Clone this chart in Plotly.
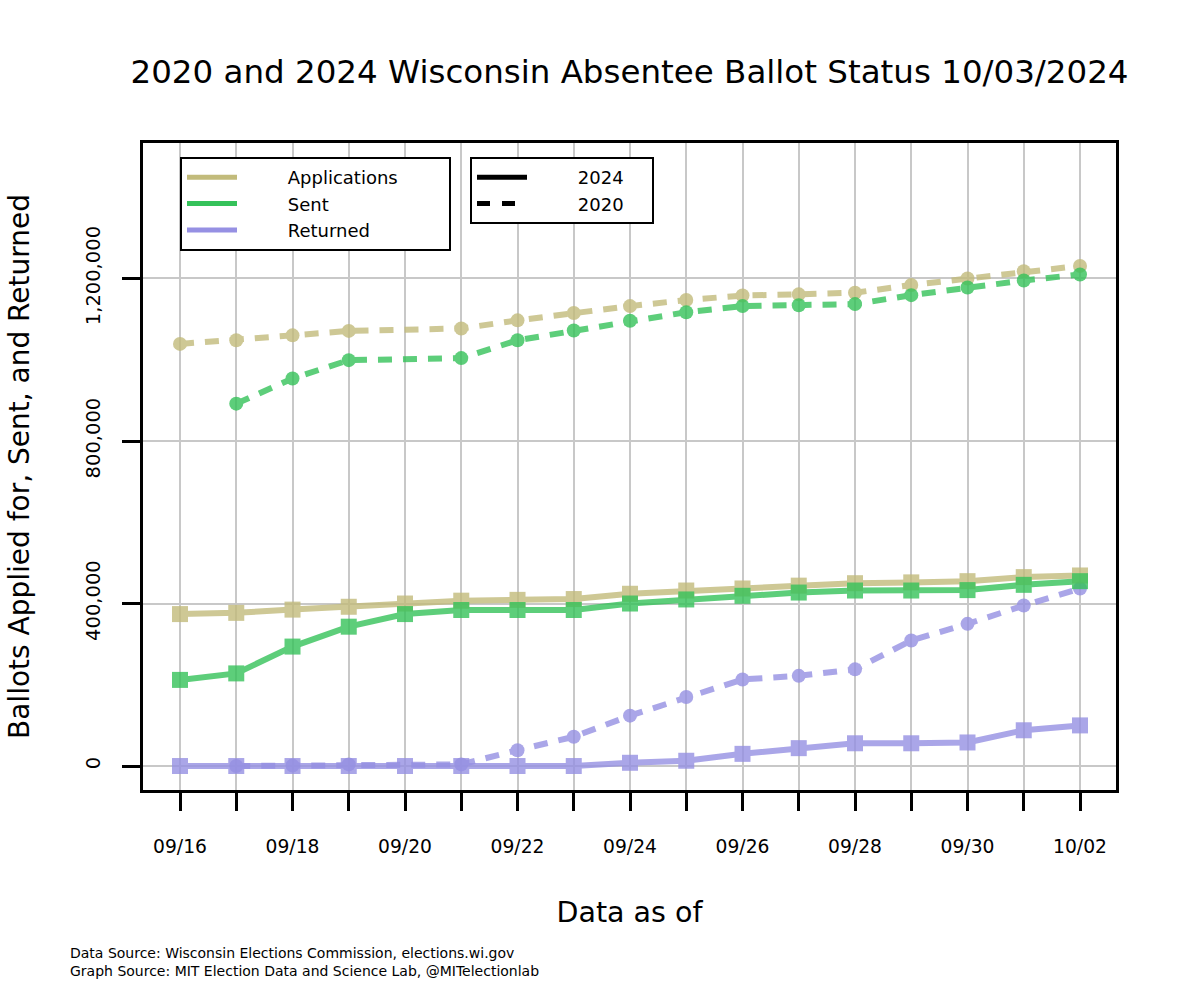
import plotly.graph_objects as go
import pandas as pd

# ---------------- data ----------------
dates = ["2024-09-16", "2024-09-17", "2024-09-18", "2024-09-19", "2024-09-20",
         "2024-09-21", "2024-09-22", "2024-09-23", "2024-09-24", "2024-09-25",
         "2024-09-26", "2024-09-27", "2024-09-28", "2024-09-29", "2024-09-30",
         "2024-10-01", "2024-10-02"]
tick_labels = ["09/16", "", "09/18", "", "09/20", "", "09/22", "", "09/24", "",
               "09/26", "", "09/28", "", "09/30", "", "10/02"]

apps_2024 = [374000, 377000, 385000, 392000, 400000, 407000, 409000, 411000, 424000,
             432000, 437000, 444000, 450000, 452000, 455000, 465000, 469000]
sent_2024 = [212000, 228000, 294000, 343000, 374000, 384000, 384000, 384000, 400000,
             410000, 419000, 427000, 432000, 432000, 433000, 446000, 455000]
ret_2024 = [0, 0, 0, 0, 0, 0, 0, 0, 8000,
            13000, 30000, 44000, 56000, 56000, 58000, 88000, 100000]

apps_2020 = [1039000, 1048000, 1060000, 1071000, None, 1077000, 1097000, 1115000, 1132000,
             1147000, 1158000, 1161000, 1165000, 1184000, 1200000, 1218000, 1231000]
sent_2020 = [None, 892000, 954000, 999000, None, 1004000, 1048000, 1072000, 1096000,
             1117000, 1132000, 1134000, 1137000, 1159000, 1178000, 1195000, 1210000]
ret_2020 = [None, 0, 1000, 4000, None, 4000, 39000, 72000, 124000,
            170000, 213000, 222000, 238000, 309000, 350000, 395000, 437000]

y_ticks = [0, 400000, 800000, 1200000]
y_tick_labels = ["0", "400,000", "800,000", "1,200,000"]

series_names = ["Applications", "Sent", "Returned"]
colors = ["#c2bb7b", "#35c25a", "#9690e3"]

FONT = "DejaVu Sans"
NB = "\u00a0"

fig = go.Figure()

series_2024 = [apps_2024, sent_2024, ret_2024]
series_2020 = [apps_2020, sent_2020, ret_2020]

for vals, col, name in zip(series_2020, colors, series_names):
    fig.add_trace(go.Scatter(
        x=dates, y=vals, mode="lines+markers", connectgaps=True,
        line=dict(color=col, width=6, dash="14px,11px"),
        marker=dict(symbol="circle", size=14, color=col),
        opacity=0.8, showlegend=False, name=name + " 2020"))

for vals, col, name in zip(series_2024, colors, series_names):
    fig.add_trace(go.Scatter(
        x=dates, y=vals, mode="lines+markers",
        line=dict(color=col, width=6),
        marker=dict(symbol="square", size=16, color=col),
        opacity=0.8, showlegend=False, name=name + " 2024"))

# legend entries
for col, name in zip(colors, series_names):
    fig.add_trace(go.Scatter(
        x=[None], y=[None], mode="lines", line=dict(color=col, width=5),
        name=NB * 8 + name + NB * 8, legend="legend"))
for nm, dash in [("2024", "solid"), ("2020", "13px,12px,13px,30px")]:
    fig.add_trace(go.Scatter(
        x=[None], y=[None], mode="lines", line=dict(color="black", width=5, dash=dash),
        name=NB * 8 + nm + NB * 4, legend="legend2"))

x0 = pd.Timestamp(dates[0]) - pd.Timedelta(days=0.658)
x1 = pd.Timestamp(dates[-1]) + pd.Timedelta(days=0.64)

fig.update_layout(
    width=1190, height=1000,
    margin=dict(l=143, r=74, t=143, b=210),
    paper_bgcolor="white", plot_bgcolor="white",
    font=dict(family=FONT, color="black", size=18),
    title=dict(text="2020 and 2024 Wisconsin Absentee Ballot Status 10/03/2024",
               x=0.5, xref="paper", xanchor="center",
               y=1 - 72 / 1000, yref="container", yanchor="middle",
               font=dict(size=32.5, family=FONT, color="black")),
    xaxis=dict(type="date", range=[x0, x1], tickvals=dates, ticktext=tick_labels,
               showgrid=True, gridcolor="#c8c8c8", gridwidth=1.5,
               showline=True, linecolor="black", linewidth=2.5, mirror=True,
               ticks="outside", ticklen=18, tickwidth=3, tickcolor="black",
               ticklabelstandoff=20, tickfont=dict(size=18.7),
               title=dict(text="Data as of", font=dict(size=28.5), standoff=46),
               zeroline=False),
    yaxis=dict(range=[-59000, 1533500], tickvals=y_ticks, ticktext=y_tick_labels,
               tickangle=-90,
               showgrid=True, gridcolor="#c8c8c8", gridwidth=1.5,
               showline=True, linecolor="black", linewidth=2.5, mirror=True,
               ticks="outside", ticklen=18, tickwidth=3, tickcolor="black",
               ticklabelstandoff=14, tickfont=dict(size=19.5),
               title=dict(text="Ballots Applied for, Sent, and Returned",
                          font=dict(size=28), standoff=45),
               zeroline=False),
    legend=dict(x=(180 - 143) / 973, y=(790 - 157) / 647, xanchor="left", yanchor="top",
                bgcolor="white", bordercolor="black", borderwidth=2,
                font=dict(size=18), itemwidth=50, itemclick=False),
    legend2=dict(x=(470 - 143) / 973, y=(790 - 157) / 647, xanchor="left", yanchor="top",
                 bgcolor="white", bordercolor="black", borderwidth=2,
                 font=dict(size=18), itemwidth=50, itemclick=False),
    annotations=[dict(
        text="Data Source: Wisconsin Elections Commission, elections.wi.gov<br>"
             "Graph Source: MIT Election Data and Science Lab, @MITelectionlab",
        xref="paper", yref="paper", x=(68 - 143) / 973, y=(790 - 943) / 647,
        xanchor="left", yanchor="top", align="left", showarrow=False,
        font=dict(size=14, family=FONT, color="black"))],
)

fig.write_html("out.html", config={"displayModeBar": False},
               post_script="document.body.style.margin='0';")
